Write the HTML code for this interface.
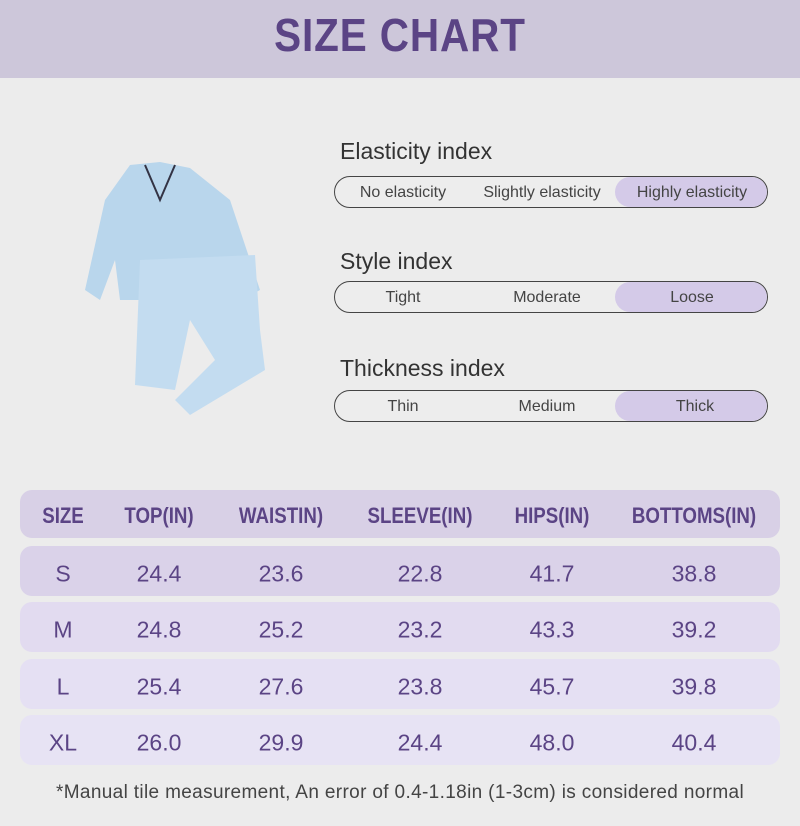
<!DOCTYPE html>
<html><head><meta charset="utf-8"><style>
body{margin:0;width:800px;height:826px;background:#ececec;font-family:"Liberation Sans",sans-serif;position:relative;overflow:hidden}
.top{position:absolute;left:0;top:0;width:800px;height:78px;background:#cdc7da}
.title{position:absolute;left:0;width:800px;top:8px;text-align:center;font-size:46px;font-weight:bold;color:#5b4485;letter-spacing:1px;transform:scaleX(0.88)}
.lab{position:absolute;left:340px;font-size:23px;color:#333}
.pill{position:absolute;left:334px;width:432px;height:30px;border:1.5px solid #444;border-radius:16px;overflow:hidden;background:#ededed}
.pill .hl{position:absolute;right:0;top:0;bottom:0;width:152px;background:#d4cae8;border-radius:16px}
.pill span{position:absolute;top:16px;font-size:16px;color:#444;transform:translate(-50%,-50%);white-space:nowrap}
.row{position:absolute;left:20px;width:760px;border-radius:12px}
.row span{position:absolute;top:calc(50% + 3px);transform:translate(-50%,-50%);font-size:23px;color:#5b4485;white-space:nowrap}
.hd span{top:calc(50% + 2px);font-weight:bold;font-size:22px;transform:translate(-50%,-50%) scaleX(0.85)}
.note{position:absolute;left:0;width:800px;top:782px;text-align:center;font-size:19px;color:#444;letter-spacing:0.35px}
</style></head><body>
<div class="top"></div><div class="title">SIZE CHART</div>
<svg style="position:absolute;left:80px;top:160px" width="185" height="260">
<path d="M50 5 L80 2 L110 8 L150 40 L180 130 L165 138 L150 100 L150 150 L115 140 L40 140 L35 100 L20 140 L5 130 L25 40 Z" fill="#b9d6ec"/>
<path d="M60 100 L175 95 L180 170 L185 210 L110 255 L95 240 L135 200 L110 160 L95 230 L55 225 Z" fill="#c3dcf0"/>
<path d="M65 5 L80 40 L95 5" fill="none" stroke="#334" stroke-width="2"/>
</svg>
<div class="lab" style="top:138px">Elasticity index</div>
<div class="pill" style="top:176px"><div class="hl"></div><span style="left:68px">No elasticity</span><span style="left:207px">Slightly elasticity</span><span style="left:357px">Highly elasticity</span></div>
<div class="lab" style="top:248px">Style index</div>
<div class="pill" style="top:281px"><div class="hl"></div><span style="left:68px">Tight</span><span style="left:212px">Moderate</span><span style="left:357px">Loose</span></div>
<div class="lab" style="top:355px">Thickness index</div>
<div class="pill" style="top:390px"><div class="hl"></div><span style="left:68px">Thin</span><span style="left:212px">Medium</span><span style="left:360px">Thick</span></div>

<div class="row hd" style="top:490px;height:48px;background:#d8d0e6"><span style="left:43px">SIZE</span><span style="left:139px">TOP(IN)</span><span style="left:261px">WAISTIN)</span><span style="left:400px">SLEEVE(IN)</span><span style="left:532px">HIPS(IN)</span><span style="left:674px">BOTTOMS(IN)</span></div>
<div class="row" style="top:546px;height:50px;background:#dad2e9"><span style="left:43px">S</span><span style="left:139px">24.4</span><span style="left:261px">23.6</span><span style="left:400px">22.8</span><span style="left:532px">41.7</span><span style="left:674px">38.8</span></div>
<div class="row" style="top:602px;height:50px;background:#e2dbf0"><span style="left:43px">M</span><span style="left:139px">24.8</span><span style="left:261px">25.2</span><span style="left:400px">23.2</span><span style="left:532px">43.3</span><span style="left:674px">39.2</span></div>
<div class="row" style="top:659px;height:50px;background:#e5e0f3"><span style="left:43px">L</span><span style="left:139px">25.4</span><span style="left:261px">27.6</span><span style="left:400px">23.8</span><span style="left:532px">45.7</span><span style="left:674px">39.8</span></div>
<div class="row" style="top:715px;height:50px;background:#e7e3f4"><span style="left:43px">XL</span><span style="left:139px">26.0</span><span style="left:261px">29.9</span><span style="left:400px">24.4</span><span style="left:532px">48.0</span><span style="left:674px">40.4</span></div>
<div class="note">*Manual tile measurement, An error of 0.4-1.18in (1-3cm) is considered normal</div>
</body></html>
